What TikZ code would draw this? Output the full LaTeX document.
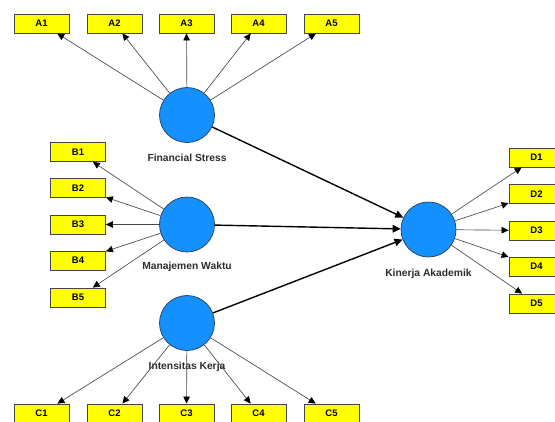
\documentclass[tikz,border=0pt]{standalone}
\usepackage{fontspec}
\setmainfont{Liberation Sans}
\usetikzlibrary{arrows.meta}
\definecolor{lvblue}{RGB}{20,144,255}
\definecolor{lvedge}{RGB}{40,60,90}
\definecolor{indyel}{RGB}{255,255,0}
\definecolor{indedge}{RGB}{70,70,70}
\definecolor{lblgray}{RGB}{45,45,45}
\begin{document}
\begin{tikzpicture}[x=1pt,y=-1pt,
  ind/.style={draw=indedge,line width=0.8pt,fill=indyel,minimum width=55pt,minimum height=19pt,inner sep=0pt,font=\bfseries\fontsize{9.5}{10}\selectfont},
  lv/.style={circle,draw=lvedge,line width=0.7pt,fill=lvblue,minimum size=55pt,inner sep=0pt},
  lvlabel/.style={font=\bfseries\fontsize{10.3}{12}\selectfont,text=lblgray},
  load/.style={draw=black!72,line width=0.65pt,-{Triangle[length=7pt,width=6.5pt,color=black]}},
  path/.style={draw=black,line width=1.4pt,-{Triangle[length=8pt,width=7.5pt]}}]
\useasboundingbox (0,0) rectangle (555,421);
\begin{scope}
\clip (0,0) rectangle (555,421);
% latent variables
\node[lv] (FS) at (187,115) {};
\node[lv] (MW) at (187,224.5) {};
\node[lv] (IK) at (187,323) {};
\node[lv] (KA) at (428.5,229.5) {};
\node[lvlabel] (FSl) at (187,158) {Financial Stress};
\node[lvlabel] (MWl) at (187,267) {Manajemen Waktu};
\node[lvlabel] (IKl) at (187,367) {Intensitas Kerja};
\node[lvlabel] (KAl) at (428.5,274) {Kinerja Akademik};
% indicators A
\node[ind] (A1) at (41.5,23.5) {A1};
\node[ind] (A2) at (114.5,23.5) {A2};
\node[ind] (A3) at (186.5,23.5) {A3};
\node[ind] (A4) at (258.5,23.5) {A4};
\node[ind] (A5) at (331.5,23.5) {A5};
% indicators B
\node[ind] (B1) at (78,152) {B1};
\node[ind] (B2) at (78,188) {B2};
\node[ind] (B3) at (78,224.5) {B3};
\node[ind] (B4) at (78,260.5) {B4};
\node[ind] (B5) at (78,297.5) {B5};
% indicators C
\node[ind] (C1) at (41.5,413.5) {C1};
\node[ind] (C2) at (114.5,413.5) {C2};
\node[ind] (C3) at (186.5,413.5) {C3};
\node[ind] (C4) at (258.5,413.5) {C4};
\node[ind] (C5) at (331.5,413.5) {C5};
% indicators D
\node[ind] (D1) at (536.5,157.5) {D1};
\node[ind] (D2) at (536.5,194) {D2};
\node[ind] (D3) at (536.5,230.5) {D3};
\node[ind] (D4) at (536.5,266.5) {D4};
\node[ind] (D5) at (536.5,303.5) {D5};
% loadings
\foreach \i in {1,...,5} {
  \draw[load] (FS) -- (A\i);
  \draw[load] (MW) -- (B\i);
  \draw[load] (IK) -- (C\i);
  \draw[load] (KA) -- (D\i);
}
% structural paths
\draw[path] (FS) -- (KA);
\draw[path] (MW) -- (KA);
\draw[path] (IK) -- (KA);
\end{scope}
\end{tikzpicture}
\end{document}
